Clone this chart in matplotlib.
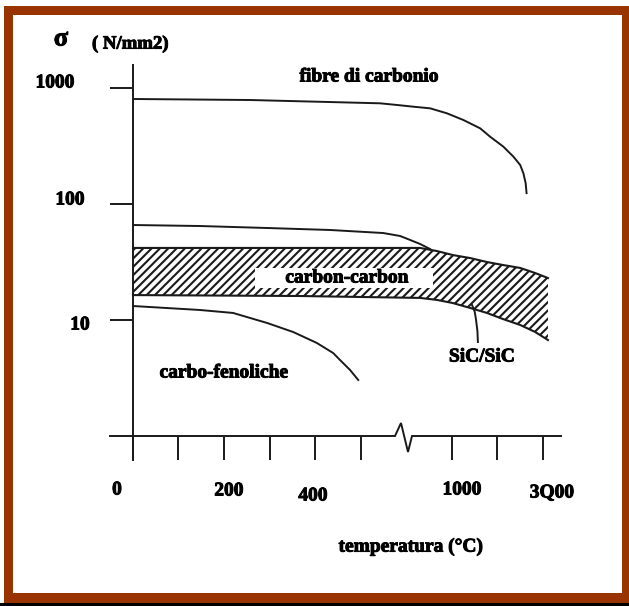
import numpy as np
import matplotlib
matplotlib.use("Agg")
import matplotlib.pyplot as plt
import matplotlib.patheffects as pe
from matplotlib.patches import Rectangle
from matplotlib.ticker import NullLocator

# x is in "tick units" (the temperature axis is schematic, with a break), y is sigma in N/mm2
fibre_u = [0, 2.57, 5.43, 5.80, 6.16, 6.53, 6.90, 7.26, 7.63, 7.85, 8.14, 8.36, 8.51, 8.58, 8.63, 8.65]
fibre_s = [804, 788, 738, 714, 690, 668, 605, 530, 449, 380, 312, 256, 217, 184, 151, 124]

sic_top_u = [0, 1.47, 2.95, 4.33, 5.50, 5.87, 6.09, 6.31, 6.53]
sic_top_s = [65.9, 64.6, 62.1, 59.7, 56.2, 53.0, 49.0, 45.2, 40.9]

band_u = [0, 3.67, 6.31, 6.68, 7.03, 7.41, 7.78, 8.13, 8.51, 8.84, 9.12]
band_top = [41.8, 41.8, 41.8, 39.3, 36.3, 34.2, 31.6, 29.8, 28.1, 25.4, 23.0]
band_bot = [16.4, 16.1, 15.5, 14.9, 14.0, 12.7, 11.5, 10.2, 9.06, 7.88, 6.72]

sic_lead_u = [7.45, 7.51, 7.54, 7.57, 7.58]
sic_lead_s = [13.5, 11.8, 10.0, 8.0, 6.46]

fenol_u = [0, 1.47, 2.20, 2.95, 3.52, 4.04, 4.40, 4.55, 4.77, 4.95]
fenol_s = [13.2, 12.2, 11.5, 9.42, 7.88, 6.34, 5.19, 4.52, 3.71, 3.04]

x_ticks = [0, 1, 2, 3, 4, 5, 7, 8, 9]
x_labels = ["0", "200", "400", "1000", "3Q00"]
y_ticks = [10, 100, 1000]
y_labels = ["1000", "100", "10"]

# reference pixel layout
W, H = 629, 606
X0, DX = 133, 45.5      # px of u=0, px per tick unit
Y1, DY = 436, 116       # px of sigma=1, px per decade
RED = "#993300"
FONT = "Liberation Serif"
INK = "#1a1a1a"


def px(x, y):
    return (x - X0) / DX, 10 ** ((Y1 - y) / DY)


fig = plt.figure(figsize=(W / 100, H / 100), dpi=100)
fig.patch.set_facecolor("white")

# frame
fig.add_artist(Rectangle((0, 0), 1, 3 / H, transform=fig.transFigure,
                         facecolor="black", edgecolor="none", zorder=-3))
fig.add_artist(Rectangle((4 / W, 3 / H), 1 - 4 / W, 597 / H, transform=fig.transFigure,
                         facecolor=RED, edgecolor="none", zorder=-2))
fig.add_artist(Rectangle((13 / W, 13 / H), 609 / W, 578 / H, transform=fig.transFigure,
                         facecolor="white", edgecolor="none", zorder=-1))

ax = fig.add_axes([0, 0, 1, 1])
ax.patch.set_visible(False)
ax.set_yscale("log")
ax.set_xlim(px(0, 0)[0], px(W, 0)[0])
ax.set_ylim(px(0, H)[1], px(0, 0)[1])

for s in ["top", "right", "bottom"]:
    ax.spines[s].set_visible(False)
ax.spines["left"].set_position(("data", 0))
ax.spines["left"].set_bounds(px(0, 460)[1], px(0, 65)[1])
ax.spines["left"].set_linewidth(1.4)
ax.spines["left"].set_color(INK)
ax.spines["bottom"].set_position(("data", 1))

ax.set_xticks(x_ticks)
ax.set_yticks(y_ticks)
ax.yaxis.set_minor_locator(NullLocator())
ax.xaxis.set_minor_locator(NullLocator())
ax.tick_params(axis="x", direction="out", length=17, width=1.4, color=INK, labelbottom=False)
ax.tick_params(axis="y", direction="out", length=16.5, width=1.4, color=INK, labelleft=False)

# x axis line with break
axis_pts = [px(110, 436), px(395, 436), px(401, 423), px(408, 452), px(412, 436), px(561, 436)]
ax.plot([p[0] for p in axis_pts], [p[1] for p in axis_pts], color=INK, lw=1.4,
        solid_joinstyle="miter")

plt.rcParams["hatch.linewidth"] = 1.5
ax.fill_between(band_u, band_bot, band_top, facecolor="white", edgecolor=INK,
                hatch="////", linewidth=0, zorder=1)
ax.plot(band_u, band_top, color=INK, lw=1.5, zorder=2)
ax.plot(band_u, band_bot, color=INK, lw=1.5, zorder=2)

ax.plot(fibre_u, fibre_s, color=INK, lw=1.4)
ax.plot(sic_top_u, sic_top_s, color=INK, lw=1.4)
ax.plot(sic_lead_u, sic_lead_s, color=INK, lw=1.4)
ax.plot(fenol_u, fenol_s, color=INK, lw=1.4)

# white box behind "carbon-carbon"
bx0, by0 = px(255, 288)
bx1, by1 = px(433, 268)
ax.add_patch(Rectangle((bx0, by0), bx1 - bx0, by1 - by0, facecolor="white",
                       edgecolor="none", zorder=3))

bold = [pe.withStroke(linewidth=0.7, foreground="black")]
tkw = dict(fontfamily=FONT, fontweight="bold", fontsize=14, ha="center", va="center",
           zorder=4, path_effects=bold)
ax.text(*px(369, 77), "fibre di carbonio", **tkw)
ax.text(*px(347, 278), "carbon-carbon", **tkw)
ax.text(*px(482, 357), "SiC/SiC", **tkw)
ax.text(*px(224, 373), "carbo-fenoliche", **tkw)
ax.text(*px(61, 39), "σ", fontfamily=FONT, fontweight="bold", fontsize=19,
        ha="center", va="center", path_effects=bold)
ax.text(*px(92, 44), "( N/mm2)", fontfamily=FONT, fontweight="bold", fontsize=13.5,
        ha="left", va="center", path_effects=bold)

for lab, pos in zip(y_labels, [(55, 83), (70, 200), (80, 325)]):
    ax.text(*px(*pos), lab, **tkw)
for lab, pos in zip(x_labels, [(117, 490), (229, 491), (313, 496), (462, 490), (552, 493)]):
    ax.text(*px(*pos), lab, **tkw)
ax.text(*px(411, 547), "temperatura (°C)", **tkw)

fig.savefig("out.png", dpi=100)
